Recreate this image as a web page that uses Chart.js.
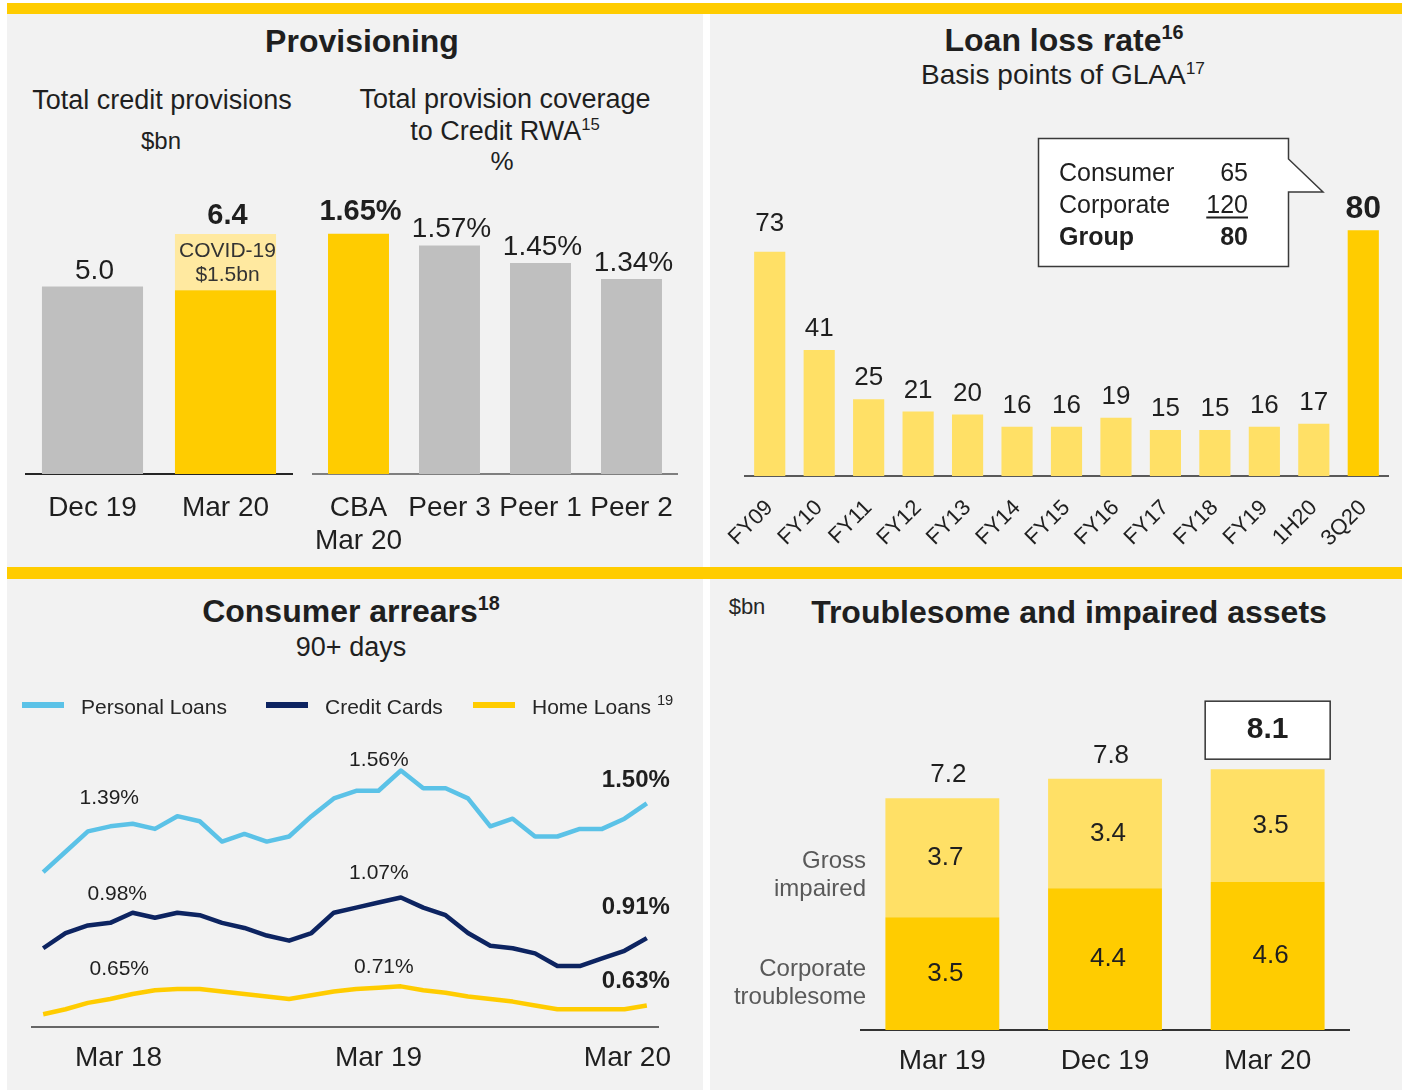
<!DOCTYPE html>
<html>
<head>
<meta charset="utf-8">
<script src="https://cdn.jsdelivr.net/npm/chart.js@4.4.0/dist/chart.umd.min.js"></script>
<style>
  html, body { margin: 0; padding: 0; background: #fff; }
  #stage { position: relative; width: 1402px; height: 1090px; overflow: hidden; background: #fff; }
  .panel { position: absolute; background: #f2f2f2; }
  .band { position: absolute; background: #ffcc00; }
  canvas { position: absolute; }
  .t { position: absolute; white-space: nowrap; line-height: 1; color: #1f1f1f;
       font-family: "Liberation Sans", Arial, sans-serif; }
  .sup { font-size: 0.62em; position: relative; top: -0.6em; }
  .mk { position: absolute; height: 6px; width: 42px; }
</style>
</head>
<body>
<div id="stage">
  <div class="panel" style="left:7px;top:14px;width:696px;height:554px"></div>
  <div class="panel" style="left:710px;top:14px;width:692px;height:554px"></div>
  <div class="panel" style="left:7px;top:579px;width:696px;height:511px"></div>
  <div class="panel" style="left:710px;top:579px;width:692px;height:511px"></div>
  <div class="band" style="left:7px;top:3px;width:1395px;height:11px"></div>
  <div class="band" style="left:7px;top:567px;width:1395px;height:12px"></div>

  <svg style="position:absolute;left:0;top:0" width="1402" height="1090">
    <path d="M1038.5,138.5 L1288.5,138.5 L1288.5,159 L1323,192 L1288.5,192 L1288.5,266.5 L1038.5,266.5 Z"
          fill="#fff" stroke="#3a3a3a" stroke-width="1.5"/>
  </svg>

  <canvas id="provChart" width="300" height="390" style="left:7px;top:180px;width:300px;height:390px"></canvas>
  <canvas id="covChart" width="413" height="390" style="left:290px;top:180px;width:413px;height:390px"></canvas>
  <canvas id="llrChart" width="692" height="390" style="left:710px;top:180px;width:692px;height:390px"></canvas>
  <canvas id="arrearsChart" width="696" height="390" style="left:7px;top:700px;width:696px;height:390px"></canvas>
  <canvas id="taChart" width="692" height="400" style="left:710px;top:690px;width:692px;height:400px"></canvas>
</div>

<script>
// ---- data ----
var provCats = ['Dec 19', 'Mar 20'];
var provBase = [5.0, 4.9];
var provCovid = [null, 1.5];

var covCats = [['CBA', 'Mar 20'], 'Peer 3', 'Peer 1', 'Peer 2'];
var covValues = [1.65, 1.57, 1.45, 1.34];

var llrCats = ['FY09', 'FY10', 'FY11', 'FY12', 'FY13', 'FY14', 'FY15', 'FY16', 'FY17', 'FY18', 'FY19', '1H20', '3Q20'];
var llrValues = [73, 41, 25, 21, 20, 16, 16, 19, 15, 15, 16, 17, 80];
var llrSplitNames = ['Consumer', 'Corporate', 'Group'];
var llrSplitValues = [65, 120, 80];

var arrearsMonths = ['Dec 17', 'Jan 18', 'Feb 18', 'Mar 18', 'Apr 18', 'May 18', 'Jun 18', 'Jul 18',
  'Aug 18', 'Sep 18', 'Oct 18', 'Nov 18', 'Dec 18', 'Jan 19', 'Feb 19', 'Mar 19', 'Apr 19', 'May 19',
  'Jun 19', 'Jul 19', 'Aug 19', 'Sep 19', 'Oct 19', 'Nov 19', 'Dec 19', 'Jan 20', 'Feb 20', 'Mar 20'];
var arrearsTicks = ['Mar 18', 'Mar 19', 'Mar 20'];
var seriesNames = ['Personal Loans', 'Credit Cards', 'Home Loans'];
var personalLoans = [1.16, 1.24, 1.32, 1.34, 1.35, 1.33, 1.38, 1.36, 1.28, 1.31, 1.28, 1.30, 1.38, 1.45,
  1.48, 1.48, 1.56, 1.49, 1.49, 1.45, 1.34, 1.37, 1.30, 1.30, 1.33, 1.33, 1.37, 1.43];
var creditCards = [0.86, 0.92, 0.95, 0.96, 1.00, 0.98, 1.00, 0.99, 0.96, 0.94, 0.91, 0.89, 0.92, 1.00,
  1.02, 1.04, 1.06, 1.02, 0.99, 0.92, 0.87, 0.86, 0.84, 0.79, 0.79, 0.82, 0.85, 0.90];
var homeLoans = [0.60, 0.62, 0.645, 0.66, 0.68, 0.695, 0.70, 0.70, 0.69, 0.68, 0.67, 0.66, 0.675, 0.69,
  0.70, 0.705, 0.71, 0.695, 0.685, 0.67, 0.66, 0.65, 0.635, 0.62, 0.62, 0.62, 0.62, 0.635];

var taCats = ['Mar 19', 'Dec 19', 'Mar 20'];
var corpTroublesome = [3.5, 4.4, 4.6];
var grossImpaired = [3.7, 3.4, 3.5];

// ---- helpers ----
var FONT = '"Liberation Sans", Arial, sans-serif';
var INK = '#1f1f1f';
var YELLOW = '#ffcc00';
var LIGHT = '#ffe066';
var GREY = '#bfbfbf';
var seriesColors = ['#5bc2e7', '#0d2461', YELLOW];

Chart.defaults.font.family = FONT;
Chart.defaults.color = INK;

var stage = document.getElementById('stage');

function put(x, y, html, css, anchor) {
  var d = document.createElement('div');
  d.className = 't';
  d.innerHTML = html;
  d.style.left = x + 'px';
  d.style.top = y + 'px';
  var tx = anchor === 'left' ? '0' : (anchor === 'right' ? '-100%' : '-50%');
  d.style.transform = 'translate(' + tx + ',-50%)';
  if (css) d.style.cssText += css;
  stage.appendChild(d);
}

function text(ctx, s, x, y, font, color, align) {
  ctx.save();
  ctx.font = font;
  ctx.fillStyle = color || INK;
  ctx.textAlign = align || 'center';
  ctx.textBaseline = 'middle';
  ctx.fillText(s, x, y);
  ctx.restore();
}

function xAxis(height, ticks, borderColor) {
  return {
    stacked: true,
    grid: { display: true, drawOnChartArea: false, drawTicks: false },
    border: { display: true, color: borderColor, width: 2 },
    ticks: ticks,
    afterFit: function (scale) { scale.height = height; }
  };
}

// ---- titles ----
put(362, 41, 'Provisioning', 'font-size:32px;font-weight:bold');
put(162, 100, 'Total credit provisions', 'font-size:27px');
put(161, 141, '$bn', 'font-size:24px');
put(505, 99, 'Total provision coverage', 'font-size:27px');
put(505, 131, 'to Credit RWA<span class="sup">15</span>', 'font-size:27px');
put(502, 161, '%', 'font-size:26px');

put(1064, 40, 'Loan loss rate<span class="sup">16</span>', 'font-size:32px;font-weight:bold');
put(1063, 75, 'Basis points of GLAA<span class="sup">17</span>', 'font-size:28px');

llrSplitNames.forEach(function (n, i) {
  var y = 172 + i * 32;
  var bold = i === llrSplitNames.length - 1 ? ';font-weight:bold' : '';
  put(1059, y, n, 'font-size:25px' + bold, 'left');
  var deco = i === 1 ? ';text-decoration:underline;text-decoration-thickness:2px;text-underline-offset:4px' : '';
  put(1248, y, String(llrSplitValues[i]), 'font-size:25px' + bold + deco, 'right');
});

put(351, 611, 'Consumer arrears<span class="sup">18</span>', 'font-size:32px;font-weight:bold');
put(351, 647, '90+ days', 'font-size:27px');

var legendX = [22, 266, 473];
seriesNames.forEach(function (n, i) {
  var m = document.createElement('div');
  m.className = 'mk';
  m.style.left = legendX[i] + 'px';
  m.style.top = '702px';
  m.style.background = seriesColors[i];
  stage.appendChild(m);
  var label = i === 2 ? n + ' <span class="sup" style="font-size:0.7em">19</span>' : n;
  put(legendX[i] + 59, 706, label, 'font-size:21px;color:#262626', 'left');
});

put(747, 607, '$bn', 'font-size:22px;color:#262626');
put(1069, 612, 'Troublesome and impaired assets', 'font-size:32px;font-weight:bold');
put(866, 860, 'Gross', 'font-size:24px;color:#595959', 'right');
put(866, 888, 'impaired', 'font-size:24px;color:#595959', 'right');
put(866, 968, 'Corporate', 'font-size:24px;color:#595959', 'right');
put(866, 996, 'troublesome', 'font-size:24px;color:#595959', 'right');

// ---- Total credit provisions ----
new Chart(document.getElementById('provChart'), {
  type: 'bar',
  data: {
    labels: provCats,
    datasets: [
      { label: 'Provisions', data: provBase, backgroundColor: [GREY, YELLOW] },
      { label: 'COVID-19', data: provCovid, backgroundColor: '#ffe9a0' }
    ]
  },
  options: {
    responsive: false, animation: false,
    datasets: { bar: { barPercentage: 0.76, categoryPercentage: 1 } },
    layout: { padding: { left: 19, right: 15, top: 31.5, bottom: 0 } },
    plugins: { legend: { display: false }, tooltip: { enabled: false } },
    scales: {
      x: xAxis(96, { font: { size: 28 }, padding: 17, maxRotation: 0, autoSkip: false }, '#262626'),
      y: { display: false, stacked: true, min: 0, max: 7 }
    }
  },
  plugins: [{
    id: 'provLabels',
    afterDatasetsDraw: function (chart) {
      var ctx = chart.ctx;
      var base = chart.getDatasetMeta(0), covid = chart.getDatasetMeta(1);
      provCats.forEach(function (c, i) {
        var total = provBase[i] + (provCovid[i] || 0);
        var top = provCovid[i] ? covid.data[i] : base.data[i];
        var bold = i === provCats.length - 1;
        text(ctx, total.toFixed(1), top.x + 2, top.y - (bold ? 18 : 15), (bold ? 'bold 29px ' : '28px ') + FONT);
        if (provCovid[i]) {
          var el = covid.data[i];
          var cy = (el.y + el.base) / 2;
          text(ctx, chart.data.datasets[1].label, el.x + 2, cy - 11, '21px ' + FONT, '#333');
          text(ctx, '$' + provCovid[i].toFixed(1) + 'bn', el.x + 2, cy + 13, '21px ' + FONT, '#333');
        }
      });
    }
  }]
});

// ---- Provision coverage ----
new Chart(document.getElementById('covChart'), {
  type: 'bar',
  data: {
    labels: covCats,
    datasets: [{ data: covValues, backgroundColor: [YELLOW, GREY, GREY, GREY] }]
  },
  options: {
    responsive: false, animation: false,
    datasets: { bar: { barPercentage: 0.67, categoryPercentage: 1 } },
    layout: { padding: { left: 23, right: 26, top: 32, bottom: 0 } },
    plugins: { legend: { display: false }, tooltip: { enabled: false } },
    scales: {
      x: xAxis(96, { font: { size: 28 }, padding: 17, maxRotation: 0, autoSkip: false }, '#7f7f7f'),
      y: { display: false, min: 0, max: 1.8 }
    }
  },
  plugins: [{
    id: 'covLabels',
    afterDatasetsDraw: function (chart) {
      var meta = chart.getDatasetMeta(0);
      covValues.forEach(function (v, i) {
        var el = meta.data[i];
        var bold = i === 0;
        text(chart.ctx, v.toFixed(2) + '%', el.x + 2, el.y - (bold ? 22 : 16), (bold ? 'bold 29px ' : '28px ') + FONT);
      });
    }
  }]
});

// ---- Loan loss rate ----
new Chart(document.getElementById('llrChart'), {
  type: 'bar',
  data: {
    labels: llrCats,
    datasets: [{
      data: llrValues,
      backgroundColor: llrValues.map(function (v, i) { return i === llrValues.length - 1 ? YELLOW : LIGHT; })
    }]
  },
  options: {
    responsive: false, animation: false,
    datasets: { bar: { barPercentage: 0.63, categoryPercentage: 1 } },
    layout: { padding: { left: 35, right: 14, top: 35, bottom: 0 } },
    plugins: { legend: { display: false }, tooltip: { enabled: false } },
    scales: {
      x: xAxis(94, { font: { size: 22 }, padding: 19, minRotation: 45, maxRotation: 45, autoSkip: false }, '#595959'),
      y: { display: false, min: 0, max: 85 }
    }
  },
  plugins: [{
    id: 'llrLabels',
    afterDatasetsDraw: function (chart) {
      var meta = chart.getDatasetMeta(0);
      llrValues.forEach(function (v, i) {
        var el = meta.data[i];
        var bold = i === llrValues.length - 1;
        var lift = i === 0 ? 28 : 21;
        text(chart.ctx, String(v), el.x, el.y - lift, (bold ? 'bold 32px ' : '26px ') + FONT);
      });
    }
  }]
});

// ---- Consumer arrears ----
var arrearsNotes = [
  { ds: 0, i: 3, text: '1.39%', dx: -1, dy: -28 },
  { ds: 0, i: 16, text: '1.56%', dx: -22, dy: -10 },
  { ds: 0, i: 27, text: '1.50%', dx: -11, dy: -23, bold: true },
  { ds: 1, i: 3, text: '0.98%', dx: 7, dy: -29 },
  { ds: 1, i: 16, text: '1.07%', dx: -22, dy: -24 },
  { ds: 1, i: 27, text: '0.91%', dx: -11, dy: -31, bold: true },
  { ds: 2, i: 3, text: '0.65%', dx: 9, dy: -30 },
  { ds: 2, i: 16, text: '0.71%', dx: -17, dy: -19 },
  { ds: 2, i: 27, text: '0.63%', dx: -11, dy: -24, bold: true }
];

new Chart(document.getElementById('arrearsChart'), {
  type: 'line',
  data: {
    labels: arrearsMonths,
    datasets: [personalLoans, creditCards, homeLoans].map(function (d, i) {
      return {
        label: seriesNames[i], data: d, borderColor: seriesColors[i], borderWidth: 4.5,
        pointRadius: 0, tension: 0, borderJoinStyle: 'round', fill: false
      };
    })
  },
  options: {
    responsive: false, animation: false,
    layout: { padding: { left: 25, right: 45, top: 22.2, bottom: 0 } },
    plugins: { legend: { display: false }, tooltip: { enabled: false } },
    scales: {
      x: {
        offset: true,
        grid: { display: true, drawOnChartArea: false, drawTicks: false },
        border: { display: true, color: '#666', width: 2 },
        ticks: { display: false },
        afterFit: function (scale) { scale.height = 63; }
      },
      y: { display: false, min: 0.55, max: 1.75 }
    }
  },
  plugins: [{
    id: 'arrearsText',
    afterDatasetsDraw: function (chart) {
      var ctx = chart.ctx, xs = chart.scales.x, area = chart.chartArea;
      arrearsNotes.forEach(function (n) {
        var el = chart.getDatasetMeta(n.ds).data[n.i];
        text(ctx, n.text, el.x + n.dx, el.y + n.dy, (n.bold ? 'bold 24px ' : '21px ') + FONT);
      });
      ctx.save();
      ctx.font = '28px ' + FONT;
      arrearsTicks.forEach(function (t) {
        var x = xs.getPixelForValue(arrearsMonths.indexOf(t));
        var w = ctx.measureText(t).width;
        x = Math.max(Math.min(x, area.right + 13 - w / 2), area.left + 43 + w / 2);
        text(ctx, t, x, area.bottom + 31, '28px ' + FONT);
      });
      ctx.restore();
    }
  }]
});

// ---- Troublesome and impaired assets ----
new Chart(document.getElementById('taChart'), {
  type: 'bar',
  data: {
    labels: taCats,
    datasets: [
      { label: 'Corporate troublesome', data: corpTroublesome, backgroundColor: YELLOW },
      { label: 'Gross impaired', data: grossImpaired, backgroundColor: LIGHT }
    ]
  },
  options: {
    responsive: false, animation: false,
    datasets: { bar: { barPercentage: 0.70, categoryPercentage: 1 } },
    layout: { padding: { left: 151, right: 53, top: 50.2, bottom: 0 } },
    plugins: { legend: { display: false }, tooltip: { enabled: false } },
    scales: {
      x: xAxis(60, { font: { size: 28 }, padding: 14, maxRotation: 0, autoSkip: false }, '#333'),
      y: { display: false, stacked: true, min: 0, max: 9 }
    }
  },
  plugins: [{
    id: 'taLabels',
    afterDatasetsDraw: function (chart) {
      var ctx = chart.ctx;
      [corpTroublesome, grossImpaired].forEach(function (d, k) {
        var meta = chart.getDatasetMeta(k);
        d.forEach(function (v, i) {
          var el = meta.data[i];
          text(ctx, v.toFixed(1), el.x + 3, (el.y + el.base) / 2, '26px ' + FONT);
        });
      });
      var top = chart.getDatasetMeta(1);
      taCats.forEach(function (c, i) {
        var el = top.data[i];
        var total = (corpTroublesome[i] + grossImpaired[i]).toFixed(1);
        if (i === taCats.length - 1) {
          var cy = el.y - 39;
          ctx.save();
          ctx.fillStyle = '#fff';
          ctx.strokeStyle = '#333';
          ctx.lineWidth = 1.5;
          ctx.fillRect(el.x - 62.5, cy - 29, 125, 58);
          ctx.strokeRect(el.x - 62.5, cy - 29, 125, 58);
          ctx.restore();
          text(ctx, total, el.x, cy, 'bold 30px ' + FONT);
        } else {
          text(ctx, total, el.x + 6, el.y - 23, '26px ' + FONT);
        }
      });
    }
  }]
});
</script>
</body>
</html>
